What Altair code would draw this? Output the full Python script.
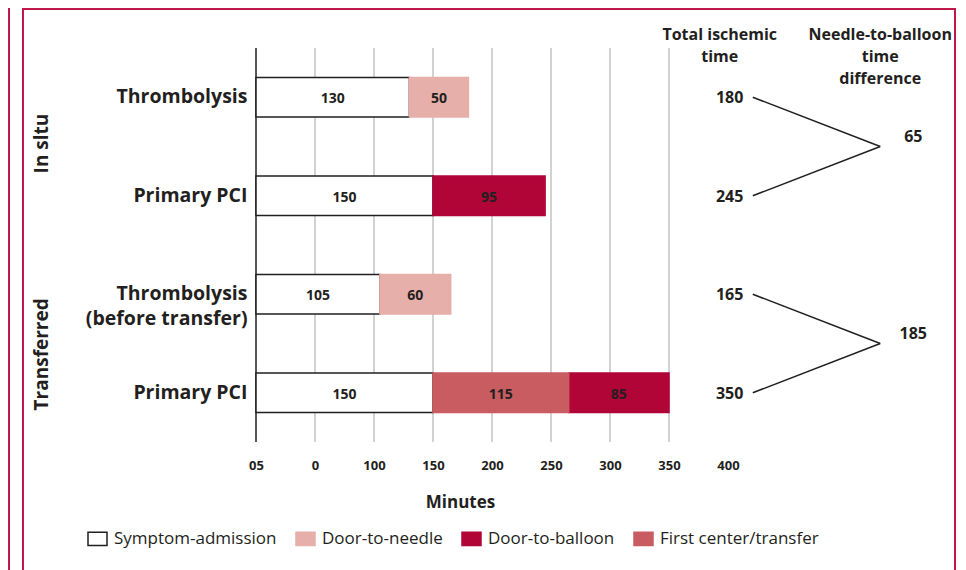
import altair as alt
import pandas as pd

# ---------------- data ----------------
row_ids = ["r1", "r2", "r3", "r4"]
row_labels = [["Thrombolysis"], ["Primary PCI"], ["Thrombolysis", "(before transfer)"], ["Primary PCI"]]
group_labels = ["In sltu", "Transferred"]
segments = ["Symptom-admission", "Door-to-needle", "Door-to-balloon", "First center/transfer"]
stack_order = ["Symptom-admission", "First center/transfer", "Door-to-needle", "Door-to-balloon"]
symptom_admission = [130, 150, 105, 150]
door_to_needle = [50, None, 60, None]
door_to_balloon = [None, 95, None, 85]
first_center_transfer = [None, None, None, 115]
total_ischemic = [180, 245, 165, 350]
needle_balloon_diff = [65, 185]
tick_values = [0, 50, 100, 150, 200, 250, 300, 350, 400]
tick_labels = ["05", "0", "100", "150", "200", "250", "300", "350", "400"]
grid_values = [50, 100, 150, 200, 250, 300, 350]

# ---------------- styles ----------------
FONT = "Open Sans"
INK = "#231f20"
FRAME = "#c0184c"
fill_colors = ["#ffffff", "#e6afa9", "#b10538", "#c95c60"]
stroke_colors = [INK, "#e6afa9", "#b10538", "#c95c60"]
W, H = 700, 394
XMAX = 593.2
COL_TOTAL = 413
COL_LINE0, COL_LINE1 = 421, 529
COL_DIFF = 557
HEAD_TOTAL, HEAD_DIFF = 393, 529
GROUP_NUDGE = [-0.03, 0.11]

series = {
    "Symptom-admission": symptom_admission,
    "Door-to-needle": door_to_needle,
    "Door-to-balloon": door_to_balloon,
    "First center/transfer": first_center_transfer,
}
recs = []
for seg, vals in series.items():
    for rid, v in zip(row_ids, vals):
        if v is not None:
            recs.append({"row": rid, "segment": seg, "value": v, "ord": stack_order.index(seg)})
bars_df = pd.DataFrame(recs)

right_df = pd.DataFrame({"total": total_ischemic, "yc": [i + 0.5 for i in range(len(row_ids))],
                         "apex": [2 * (i // 2) + 1.0 for i in range(len(row_ids))]})
diff_df = pd.DataFrame({"diff": needle_balloon_diff, "yc": [2 * g + 1.0 for g in range(len(needle_balloon_diff))]})
group_df = pd.DataFrame({"label": group_labels,
                         "yc": [2 * g + 1.0 + GROUP_NUDGE[g] for g in range(len(group_labels))]})
grid_df = pd.DataFrame({"g": grid_values})
one = pd.DataFrame({"k": [0]})

ylab = " : ".join(
    f"datum.value == '{rid}' ? [{', '.join(repr(s) for s in lab)}]" for rid, lab in zip(row_ids, row_labels)
) + " : ''"
xlab = " : ".join(f"datum.value == {v} ? '{t}'" for v, t in zip(tick_values, tick_labels)) + " : ''"

yband_scale = alt.Scale(domain=row_ids, paddingInner=0.6, paddingOuter=0.3)
yq_scale = alt.Scale(domain=[0, 4], reverse=True, nice=False, zero=False)
x_scale = alt.Scale(domain=[0, XMAX], nice=False, zero=False)

legend = alt.Legend(
    title=None, orient="none", direction="horizontal", legendX=-169, legendY=480,
    symbolType="M-1,-0.7H1V0.7H-1Z", symbolSize=361, symbolStrokeWidth=1.5,
    labelFont=FONT, labelFontSize=17, labelColor=INK, labelOffset=6, labelLimit=400,
    columnPadding=16, padding=0, symbolOpacity=1,
)

base_bars = alt.Chart(bars_df).transform_stack(
    stack="value", groupby=["row"], as_=["x0", "x1"], sort=[alt.SortField("ord")]
)

bars = base_bars.mark_bar(strokeWidth=1.5).encode(
    x=alt.X("x0:Q", scale=x_scale, axis=alt.Axis(
        values=tick_values, labelExpr=xlab, grid=False, ticks=False, tickSize=0, domain=False,
        labelFont=FONT, labelFontSize=13, labelFontWeight="bold", labelColor=INK,
        labelBaseline="middle", labelPadding=23, labelFlush=False,
        title="Minutes", titleFont=FONT, titleFontSize=17, titleFontWeight="bold", titleColor=INK,
        titleX=204, titleY=60, titleBaseline="middle")),
    x2="x1:Q",
    y=alt.Y("row:N", scale=yband_scale, sort=row_ids, axis=alt.Axis(
        title=None, labelExpr=ylab, domain=False, ticks=False, tickSize=0, grid=False,
        labelFont=FONT, labelFontSize=19.5, labelFontWeight="bold", labelColor=INK,
        labelPadding=9, labelLineHeight=25, labelBaseline="middle", labelLimit=300)),
    fill=alt.Fill("segment:N", scale=alt.Scale(domain=segments, range=fill_colors), legend=legend),
    stroke=alt.Stroke("segment:N", scale=alt.Scale(domain=segments, range=stroke_colors), legend=legend),
)

bar_text = base_bars.transform_calculate(mid="(datum.x0 + datum.x1) / 2").mark_text(
    font=FONT, fontSize=14, fontWeight="bold", color=INK, dy=2
).encode(
    x=alt.X("mid:Q", scale=x_scale),
    y=alt.Y("row:N", scale=yband_scale, sort=row_ids, axis=None),
    text="value:Q",
)

grid = alt.Chart(grid_df).mark_rule(color="#d2d2d2", strokeWidth=2).encode(x=alt.X("g:Q", scale=x_scale))
zero_line = alt.Chart(one).mark_rule(color=INK, strokeWidth=1.5).encode(x=alt.datum(0))

links = alt.Chart(right_df).mark_rule(color=INK, strokeWidth=1.5).encode(
    x=alt.datum(COL_LINE0), x2=alt.datum(COL_LINE1),
    y=alt.Y("yc:Q", scale=yq_scale, axis=None), y2="apex:Q",
)
totals = alt.Chart(right_df).mark_text(
    font=FONT, fontSize=16, fontWeight="bold", color=INK, align="right", dy=1
).encode(x=alt.datum(COL_TOTAL), y=alt.Y("yc:Q", scale=yq_scale, axis=None), text="total:Q")
diffs = alt.Chart(diff_df).mark_text(
    font=FONT, fontSize=16, fontWeight="bold", color=INK, align="center", dy=-10
).encode(x=alt.datum(COL_DIFF), y=alt.Y("yc:Q", scale=yq_scale, axis=None), text="diff:Q")
groups = alt.Chart(group_df).mark_text(
    font=FONT, fontSize=19, fontWeight="bold", color=INK, angle=270, align="center", baseline="middle"
).encode(x=alt.value(-214), y=alt.Y("yc:Q", scale=yq_scale, axis=None), text="label:N")

head_total = alt.Chart(one).mark_text(
    text=["Total ischemic", "time"], font=FONT, fontSize=16, fontWeight="bold", color=INK,
    align="center", baseline="top", lineHeight=22
).encode(x=alt.datum(HEAD_TOTAL), y=alt.value(-21))
head_diff = alt.Chart(one).mark_text(
    text=["Needle-to-balloon", "time", "difference"], font=FONT, fontSize=16, fontWeight="bold", color=INK,
    align="center", baseline="top", lineHeight=22
).encode(x=alt.datum(HEAD_DIFF), y=alt.value(-21))

frame_l1 = alt.Chart(one).mark_rule(color=FRAME, strokeWidth=2).encode(
    x=alt.value(-247), y=alt.value(-40), y2=alt.value(H + 128))
frame_l2 = alt.Chart(one).mark_rule(color=FRAME, strokeWidth=2).encode(
    x=alt.value(-233), y=alt.value(-39), y2=alt.value(H + 128))
frame_t = alt.Chart(one).mark_rule(color=FRAME, strokeWidth=2).encode(
    x=alt.value(-234), x2=alt.value(W), y=alt.value(-39))
frame_r = alt.Chart(one).mark_rule(color=FRAME, strokeWidth=2).encode(
    x=alt.value(W - 1), y=alt.value(-39), y2=alt.value(H + 128))

chart = alt.layer(
    grid, zero_line, bars, bar_text, links, totals, diffs, groups, head_total, head_diff,
    frame_l1, frame_l2, frame_t, frame_r,
).resolve_scale(y="independent").properties(
    width=W, height=H,
    padding={"left": 248, "top": 40, "right": 2, "bottom": 128},
    autosize=alt.AutoSizeParams(type="none"),
).configure_view(stroke=None)

chart.save("out.html", embed_options={"renderer": "svg", "actions": False})
